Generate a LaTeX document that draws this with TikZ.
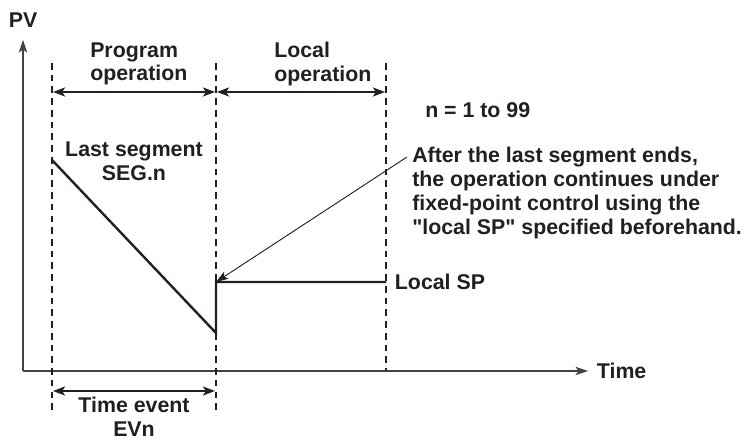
\documentclass[tikz,border=0pt]{standalone}
\usepackage{fontspec}
\setmainfont{Liberation Sans}[Ligatures=TeXOff]
\usetikzlibrary{positioning,arrows.meta}
\definecolor{inkgrey}{RGB}{35,31,32}
\tikzset{
  lbl/.style={font=\bfseries\fontsize{16}{17.8}\selectfont,text=inkgrey,inner sep=0pt},
  axisline/.style={-{Stealth[length=3.3mm,width=2.2mm,inset=0.8mm]},line width=0.8pt,draw=inkgrey!85},
  span/.style={{Stealth[length=3.2mm,width=2.4mm,inset=0.8mm]}-{Stealth[length=3.2mm,width=2.4mm,inset=0.8mm]},line width=1.1pt,draw=inkgrey},
  guide/.style={dash pattern=on 5pt off 3.8pt,line width=0.8pt,draw=inkgrey},
  trend/.style={line width=1.8pt,draw=inkgrey},
  pointer/.style={-{Stealth[length=3.3mm,width=2.2mm,inset=0.8mm]},line width=0.7pt,draw=inkgrey},
}

\begin{document}
\begin{tikzpicture}[x=0.75pt,y=0.75pt]
  \useasboundingbox (0,0) rectangle (744,442);
  % axes
  \coordinate (o) at (23,71);
  \coordinate (ytip) at (23,402);
  \coordinate (xtip) at (588,71);
  \draw[axisline] (o) -- (ytip);
  \draw[axisline] (o) -- (xtip);
  \node[lbl,above=9pt of ytip] (pv) {PV};
  \node[lbl,right=6.5pt of xtip] (time) {Time};
  % dashed guides
  \coordinate (g1top) at (52,379);
  \coordinate (g1bot) at (52,27);
  \coordinate (g2top) at (216,379);
  \coordinate (g2bot) at (216,27);
  \coordinate (g3top) at (386,379);
  \coordinate (g3bot) at (386,72);
  \draw[guide] (g1top) -- (g1bot);
  \draw[guide] (g2top) -- (g2bot);
  \draw[guide] (g3top) -- (g3bot);
  % operation spans
  \coordinate (s1) at (53,350);
  \coordinate (s2) at (215,350);
  \coordinate (s3) at (217,350);
  \coordinate (s4) at (385,350);
  \draw[span] (s1) -- (s2);
  \draw[span] (s3) -- (s4);
  \node[lbl,align=left,anchor=west] (prog) at (90,378) {Program\\operation};
  \node[lbl,align=left,anchor=west] (loc) at (274,378) {Local\\operation};
  % time event span
  \coordinate (e1) at (53,51);
  \coordinate (e2) at (215,51);
  \draw[span] (e1) -- (e2);
  \node[lbl,align=center] (ev) at (134,25) {Time event\\EVn};
  % last segment and local SP
  \coordinate (segstart) at (52,282);
  \coordinate (segend) at (216,109);
  \coordinate (spstart) at (216,160);
  \coordinate (spend) at (386,160);
  \draw[trend,line join=miter] (segstart) -- (segend) -- (spstart) -- (spend);
  \node[lbl,align=center] (seg) at (134,281) {Last segment\\SEG.n};
  \node[lbl,right=6.5pt of spend] (splab) {Local SP};
  % note
  \node[lbl,anchor=west] (range) at (425,332) {n = 1 to 99};
  \node[lbl,align=left,anchor=west] (note) at (412,249) {After the last segment ends,\\the operation continues under\\fixed-point control using the\\"local SP" specified beforehand.};
  \coordinate (cue) at (407,285);
  \draw[pointer] (cue) -- (spstart);
\end{tikzpicture}
\end{document}
